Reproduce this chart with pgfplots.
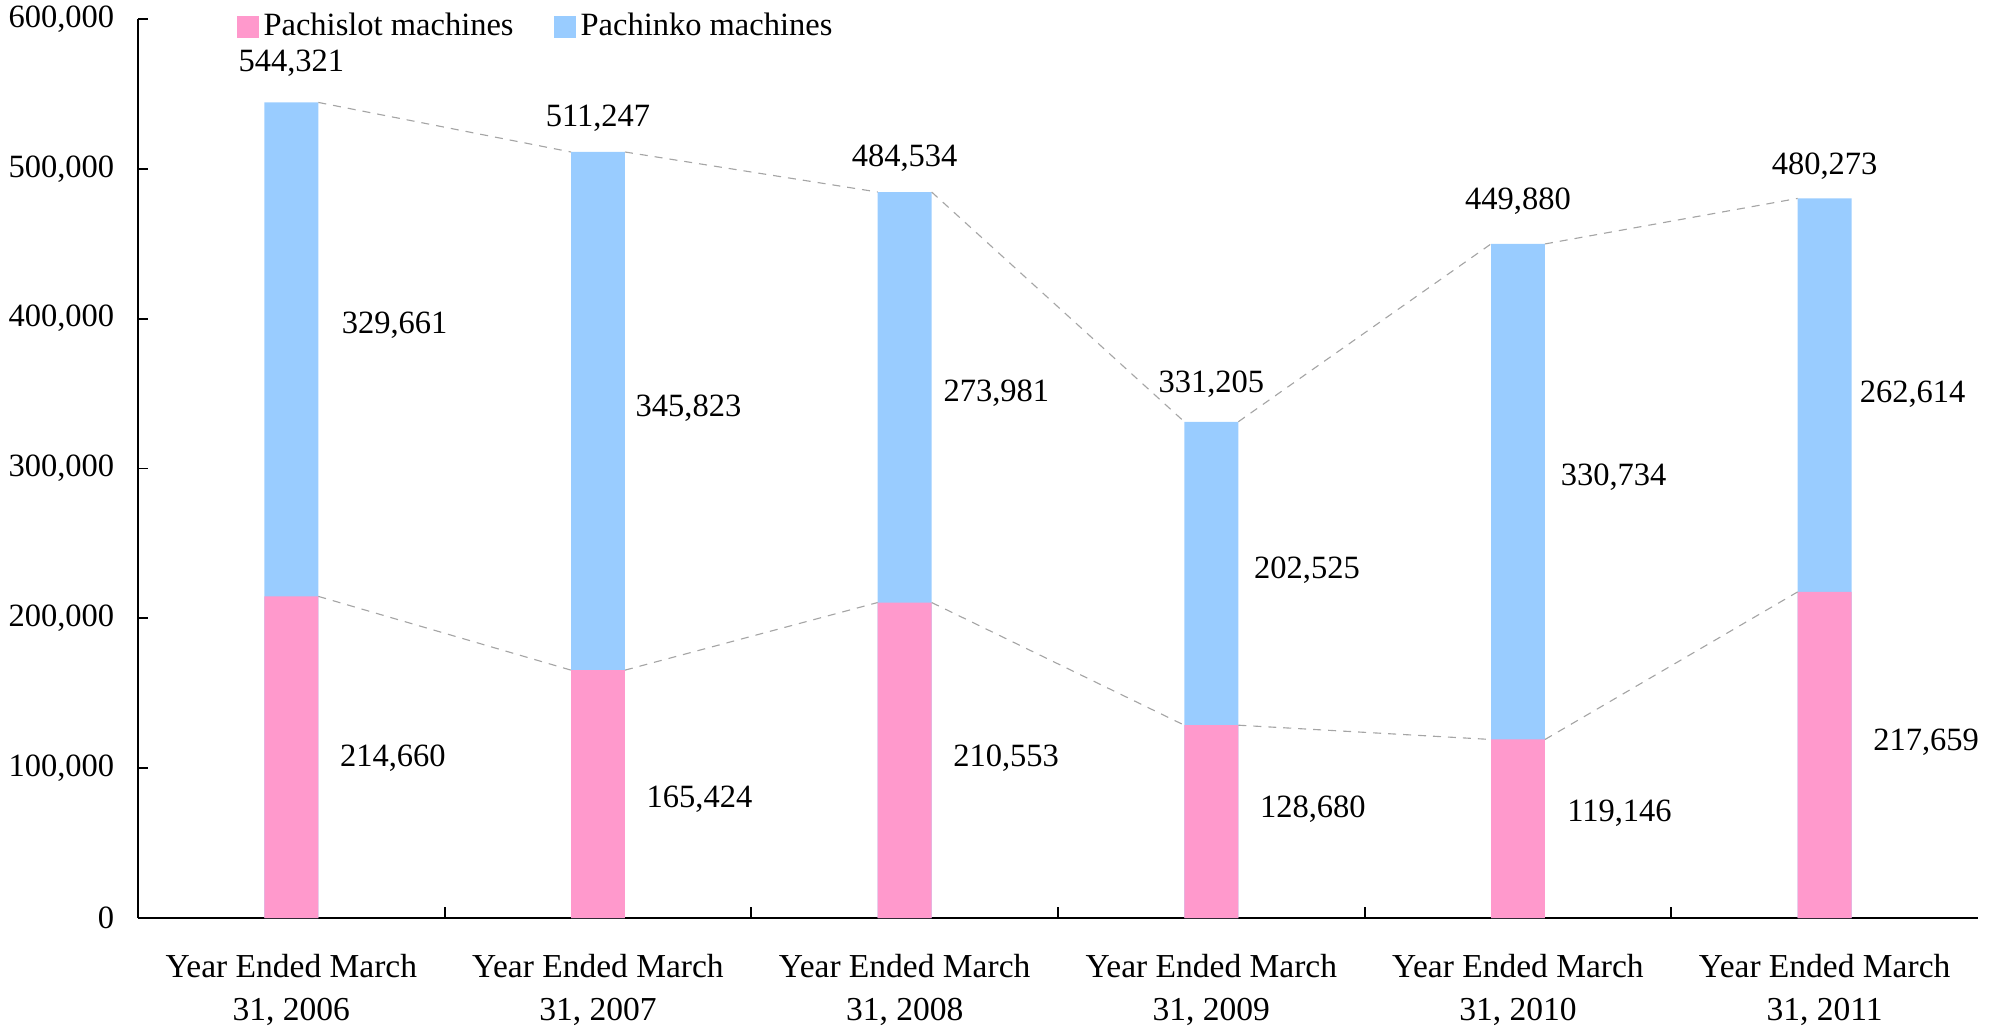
\documentclass[border=0pt]{standalone}
\usepackage{fontspec}
\setmainfont{Liberation Serif}
\usepackage{pgfplots}
\pgfplotsset{compat=1.18}
\usepackage{pgfplotstable}

\definecolor{slotpink}{RGB}{255,153,204}
\definecolor{pachblue}{RGB}{153,204,255}
\definecolor{linegray}{RGB}{165,165,165}

% x, total, pachislot
\pgfplotstableread{
x total slot
0 544321 214660
1 511247 165424
2 484534 210553
3 331205 128680
4 449880 119146
5 480273 217659
}\machines

% label positions (x, y) and text
\pgfplotstableread{
x y lab
0 570189 544,321
1 533540 511,247
2 507119 484,534
3 356261 331,205
4 478140 449,880
5 502005 480,273
}\totlabels
\pgfplotstableread{
x y lab
0.337 395455 329,661
1.295 340057 345,823
2.299 350284 273,981
3.312 231823 202,525
4.312 294040 330,734
5.287 349432 262,614
}\bluelabels
\pgfplotstableread{
x y lab
0.331 106538 214,660
1.331 79264 165,424
2.331 106538 210,553
3.331 72446 128,680
4.331 69889 119,146
5.331 117617 217,659
}\pinklabels

\begin{document}
\fontsize{13}{15.6}\selectfont
\begin{tikzpicture}
\path[use as bounding box] (-55.2pt,-43.2pt) rectangle (745.6pt,367.2pt);
\begin{axis}[
  scale only axis, width=736pt, height=359.6pt,
  xmin=-0.5, xmax=5.5, ymin=0, ymax=600000,
  axis lines=left, axis line style={line width=0.7pt, -},
  tick align=inside, major tick length=4pt, minor tick length=4.5pt,
  tick style={black, line width=0.7pt},
  xtick={0,1,2,3,4,5}, major x tick style={draw=none},
  minor xtick={0.5,1.5,2.5,3.5,4.5},
  xticklabels={{Year Ended March\\31, 2006},{Year Ended March\\31, 2007},{Year Ended March\\31, 2008},{Year Ended March\\31, 2009},{Year Ended March\\31, 2010},{Year Ended March\\31, 2011}},
  xticklabel style={align=center, font=\fontsize{13.4}{17}\selectfont, yshift=-10pt},
  ytick={0,100000,...,600000}, scaled y ticks=false,
  yticklabel style={/pgf/number format/fixed, /pgf/number format/1000 sep={,}, /pgf/number format/assume math mode=true, xshift=-5pt},
  bar width=0.176, unbounded coords=jump,
  legend style={draw=none, fill=none, inner sep=0pt, at={(rel axis cs:0.0533,0.991)}, anchor=west,
    nodes={inner sep=0pt}, legend columns=2,
    /tikz/every odd column/.append style={column sep=2pt},
    /tikz/every even column/.append style={column sep=16pt}},
  legend image code/.code={\fill[#1] (0pt,-4.4pt) rectangle (8.8pt,4.4pt);},
  every node near coord/.style={anchor=center, inner sep=0pt, black},
]
\addlegendimage{fill=slotpink, draw=none}
\addlegendentry{Pachislot machines}
\addlegendimage{fill=pachblue, draw=none}
\addlegendentry{Pachinko machines}

\addplot[ybar, bar shift=0pt, fill=pachblue, draw=none, forget plot] table[x=x, y=total] {\machines};
\addplot[ybar, bar shift=0pt, fill=slotpink, draw=none, forget plot] table[x=x, y=slot] {\machines};

\addplot[linegray, line width=0.45pt, dash pattern=on 3.2pt off 2.8pt, forget plot] coordinates {
  (0.088,544321) (0.912,511247) (0.5,nan)
  (1.088,511247) (1.912,484534) (1.5,nan)
  (2.088,484534) (2.912,331205) (2.5,nan)
  (3.088,331205) (3.912,449880) (3.5,nan)
  (4.088,449880) (4.912,480273)};
\addplot[linegray, line width=0.45pt, dash pattern=on 3.2pt off 2.8pt, forget plot] coordinates {
  (0.088,214660) (0.912,165424) (0.5,nan)
  (1.088,165424) (1.912,210553) (1.5,nan)
  (2.088,210553) (2.912,128680) (2.5,nan)
  (3.088,128680) (3.912,119146) (3.5,nan)
  (4.088,119146) (4.912,217659)};

\addplot[only marks, mark=none, nodes near coords, point meta=explicit symbolic, forget plot] table[x=x, y=y, meta=lab] {\totlabels};
\addplot[only marks, mark=none, nodes near coords, point meta=explicit symbolic, forget plot] table[x=x, y=y, meta=lab] {\bluelabels};
\addplot[only marks, mark=none, nodes near coords, point meta=explicit symbolic, forget plot] table[x=x, y=y, meta=lab] {\pinklabels};
\end{axis}
\end{tikzpicture}
\end{document}
